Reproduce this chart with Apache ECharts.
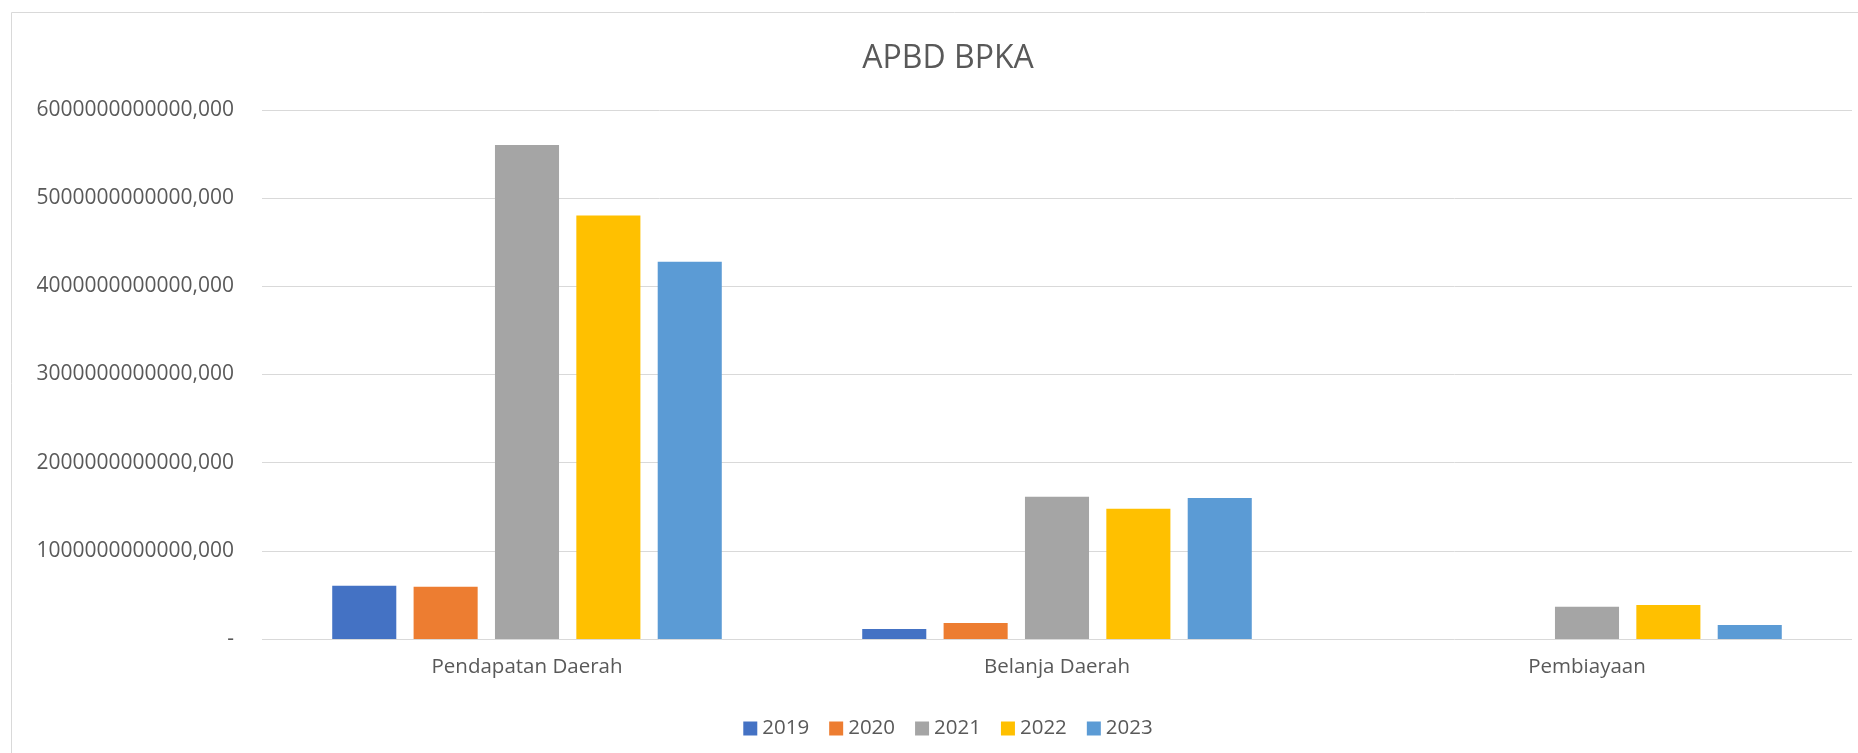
<!DOCTYPE html>
<html>
<head>
<meta charset="utf-8">
<script src="https://cdn.jsdelivr.net/npm/echarts@6/dist/echarts.min.js"></script>
<style>
	html, body { margin: 0; padding: 0; overflow: hidden; background: #fff; }
	#chart { width: 1896px; height: 753px; }
</style>
</head>
<body>
<div id="chart"></div>
<script>
	// data
	let categories = ['Pendapatan Daerah', 'Belanja Daerah', 'Pembiayaan'];
	let years = ['2019', '2020', '2021', '2022', '2023'];
	let v2019 = [605000000000, 114000000000, 0];
	let v2020 = [594000000000, 182000000000, 0];
	let v2021 = [5603000000000, 1613000000000, 367000000000];
	let v2022 = [4804000000000, 1476000000000, 386000000000];
	let v2023 = [4278000000000, 1598000000000, 159000000000];
	let yTicks = [0, 1000000000000, 2000000000000, 3000000000000, 4000000000000, 5000000000000, 6000000000000];

	let colors = ['#4472C4', '#ED7D31', '#A5A5A5', '#FFC000', '#5B9BD5'];
	let valueList = [v2019, v2020, v2021, v2022, v2023];
	let font = '"Open Sans", "Noto Sans", sans-serif';

	let series = [];
	years.forEach((name, i) => {
		series.push({
			type: 'bar',
			name: name,
			data: valueList[i],
			barGap: '27%',
			barCategoryGap: '26.5%',
			itemStyle: {
				color: colors[i]
			}
		});
	});

	let option = {
		animation: false,
		color: colors,
		textStyle: {
			fontFamily: font
		},
		graphic: [{
			type: 'rect',
			shape: { x: 11.5, y: 12.5, width: 1900, height: 800 },
			style: { fill: 'none', stroke: '#d9d9d9', lineWidth: 1 },
			silent: true
		}],
		title: {
			text: 'APBD BPKA',
			left: 'center',
			top: 38,
			textStyle: {
				color: '#595959',
				fontSize: 32,
				fontWeight: 'normal',
				fontFamily: font
			}
		},
		legend: {
			data: years,
			left: 'center',
			top: 713,
			icon: 'rect',
			itemWidth: 14,
			itemHeight: 14,
			itemGap: 20,
			textStyle: {
				color: '#595959',
				fontSize: 20.5,
				fontFamily: font
			}
		},
		grid: {
			left: 262,
			right: 44,
			top: 110,
			bottom: 114,
			containLabel: false
		},
		xAxis: {
			type: 'category',
			data: categories,
			axisLine: { show: false },
			axisTick: { show: false },
			axisLabel: {
				color: '#595959',
				fontSize: 20.5,
				fontFamily: font,
				margin: 18
			}
		},
		yAxis: {
			type: 'value',
			min: yTicks[0],
			max: yTicks[yTicks.length - 1],
			interval: yTicks[1] - yTicks[0],
			axisLine: { show: false },
			axisTick: { show: false },
			splitLine: {
				lineStyle: { color: '#d9d9d9', width: 1 }
			},
			axisLabel: {
				color: '#595959',
				fontSize: 21,
				fontFamily: font,
				margin: 28,
				formatter: function (value) {
					if (value === 0) {
						return '-';
					}
					return value + ',000';
				}
			}
		},
		series: series
	};

	let chart = echarts.init(document.getElementById('chart'));
	chart.setOption(option);
	window.addEventListener('resize', function () {
		chart.resize();
	});
</script>
</body>
</html>
